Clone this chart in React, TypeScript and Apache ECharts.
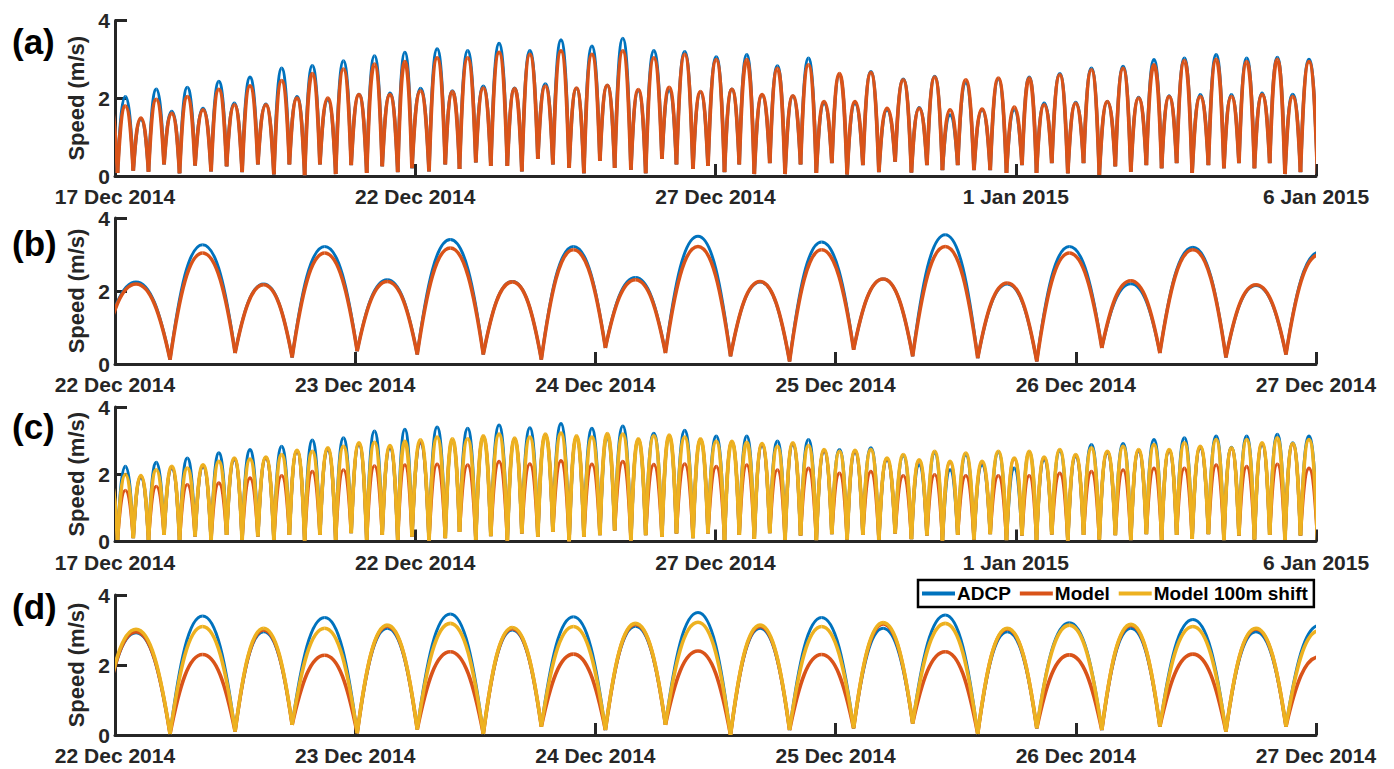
import React, { useEffect, useRef } from "react";
import * as echarts from "echarts";

const FONT = "'Liberation Sans', Arial, Helvetica, sans-serif";
const AXIS = "#262626";
const C_ADCP = "#0072BD";
const C_MODEL = "#D95319";
const C_SHIFT = "#EDB120";

// Tick labels
const ticksLong = ["17 Dec 2014", "22 Dec 2014", "27 Dec 2014", "1 Jan 2015", "6 Jan 2015"];
const ticksShort = ["22 Dec 2014", "23 Dec 2014", "24 Dec 2014", "25 Dec 2014", "26 Dec 2014", "27 Dec 2014"];

// Slack-water (trough) times, hours after 17 Dec 2014 00:00 (shared by both sites)
const troughHours = [
  -5.2, 1.0, 7.3, 13.4, 19.6, 25.8, 32.0, 38.4, 44.6, 50.8, 57.1, 63.5, 69.7, 75.8, 81.9, 88.2,
  94.4, 100.6, 106.8, 113.0, 118.7, 125.5, 132.0, 137.7, 144.2, 150.2, 156.8, 162.6, 169.0, 175.0,
  181.5, 187.4, 193.8, 199.7, 206.2, 212.1, 218.6, 224.4, 231.0, 237.0, 243.6, 249.5, 255.5, 261.7,
  267.8, 274.0, 280.3, 286.5, 292.6, 298.9, 305.3, 311.8, 318.3, 324.5, 330.7, 336.8, 343.3, 349.8,
  356.3, 362.5, 368.3, 374.4, 380.8, 387.1, 393.4, 399.8, 406.0, 412.2, 418.3, 424.3, 430.5, 437.0,
  443.2, 449.2, 455.4, 461.5, 467.6, 473.8, 480.6,
];

// Site 1 (panels a, b): peak speed of each half tidal cycle (m/s)
const site1Adcp = [
  1.9, 2.04, 1.46, 2.23, 1.66, 2.28, 1.74, 2.43, 1.87, 2.54,
  1.85, 2.77, 2.04, 2.84, 1.96, 2.96, 2.10, 3.09, 2.13, 3.18,
  2.25, 3.27, 2.19, 3.22, 2.31, 3.41, 2.26, 3.22, 2.37, 3.50,
  2.25, 3.34, 2.33, 3.54, 2.19, 3.22, 2.20, 3.20, 2.15, 3.06,
  2.23, 3.12, 2.08, 2.83, 2.05, 3.03, 1.87, 2.60, 1.87, 2.68,
  1.70, 2.49, 1.76, 2.56, 1.57, 2.40, 1.70, 2.49, 1.70, 2.54,
  1.87, 2.63, 1.89, 2.77, 1.91, 2.82, 2.02, 2.99, 2.06, 3.03,
  2.09, 3.12, 2.09, 3.03, 2.13, 3.05, 2.10, 3.00,
];
const site1Model = [
  1.9, 1.80, 1.49, 1.97, 1.61, 2.04, 1.70, 2.23, 1.83, 2.32,
  1.83, 2.45, 2.00, 2.63, 2.00, 2.75, 2.09, 2.88, 2.09, 2.94,
  2.19, 3.04, 2.17, 3.04, 2.26, 3.18, 2.25, 3.13, 2.31, 3.22,
  2.26, 3.13, 2.33, 3.22, 2.22, 3.04, 2.28, 3.13, 2.17, 2.99,
  2.23, 2.99, 2.09, 2.77, 2.06, 2.86, 1.91, 2.63, 1.91, 2.66,
  1.74, 2.47, 1.74, 2.54, 1.70, 2.47, 1.72, 2.52, 1.77, 2.52,
  1.83, 2.60, 1.87, 2.73, 1.91, 2.77, 2.00, 2.86, 2.04, 2.97,
  2.04, 3.00, 2.04, 2.94, 2.09, 3.00, 2.04, 2.94,
];
// Site 1 speed at each slack water (m/s)
const site1Slack = [
  0.10, 0.08, 0.14, 0.11, 0.30, 0.07, 0.27, 0.12, 0.25, 0.10, 0.30, 0.04, 0.30, 0.02, 0.30, 0.05,
  0.28, 0.08, 0.25, 0.10, 0.20, 0.12, 0.30, 0.18, 0.35, 0.26, 0.26, 0.12, 0.44, 0.30, 0.21, 0.07,
  0.39, 0.21, 0.16, 0.07, 0.44, 0.30, 0.18, 0.26, 0.10, 0.30, 0.05, 0.33, 0.05, 0.30, 0.08, 0.33,
  0.04, 0.28, 0.10, 0.37, 0.09, 0.28, 0.15, 0.28, 0.15, 0.15, 0.08, 0.28, 0.08, 0.33, 0.07, 0.33,
  0.03, 0.25, 0.11, 0.28, 0.20, 0.33, 0.08, 0.28, 0.20, 0.33, 0.20, 0.33, 0.05, 0.10, 0.05,
];

// Site 2 (panels c, d)
const site2Adcp = [
  1.9, 2.23, 1.90, 2.35, 2.18, 2.48, 2.23, 2.63, 2.43, 2.73,
  2.48, 2.83, 2.68, 3.01, 2.73, 3.08, 2.88, 3.28, 2.78, 3.33,
  2.92, 3.40, 2.95, 3.36, 3.05, 3.46, 3.00, 3.38, 3.11, 3.50,
  3.05, 3.36, 3.05, 3.43, 2.95, 3.21, 3.05, 3.30, 2.95, 3.13,
  2.93, 3.13, 2.86, 2.98, 2.88, 3.03, 2.68, 2.73, 2.66, 2.78,
  2.43, 2.55, 2.28, 2.63, 2.13, 2.58, 2.28, 2.65, 2.18, 2.65,
  2.43, 2.70, 2.53, 2.88, 2.63, 2.91, 2.68, 3.03, 2.70, 3.08,
  2.78, 3.13, 2.80, 3.13, 2.88, 3.18, 2.93, 3.13,
];
const site2Model = [
  1.9, 1.52, 1.94, 1.64, 2.21, 1.69, 2.26, 1.74, 2.46, 1.89,
  2.49, 1.96, 2.69, 2.08, 2.76, 2.13, 2.91, 2.25, 2.83, 2.28,
  2.95, 2.30, 3.00, 2.28, 3.11, 2.38, 3.04, 2.31, 3.16, 2.40,
  3.10, 2.30, 3.17, 2.38, 3.03, 2.29, 3.13, 2.31, 3.03, 2.23,
  2.96, 2.28, 2.89, 2.13, 2.91, 2.18, 2.71, 2.03, 2.69, 2.08,
  2.46, 1.96, 2.41, 1.99, 2.36, 1.96, 2.36, 1.96, 2.46, 1.96,
  2.49, 2.03, 2.56, 2.08, 2.66, 2.13, 2.71, 2.18, 2.71, 2.18,
  2.81, 2.28, 2.76, 2.23, 2.91, 2.30, 2.89, 2.18,
];
const site2Shift = [
  1.9, 1.99, 1.96, 2.13, 2.23, 2.18, 2.28, 2.38, 2.48, 2.45,
  2.51, 2.58, 2.71, 2.68, 2.78, 2.83, 2.93, 2.95, 2.85, 2.98,
  3.02, 3.10, 3.05, 3.05, 3.14, 3.19, 3.07, 3.10, 3.19, 3.22,
  3.14, 3.10, 3.21, 3.19, 3.05, 3.14, 3.16, 3.10, 3.05, 2.98,
  2.98, 2.95, 2.91, 2.83, 2.93, 2.85, 2.73, 2.68, 2.71, 2.73,
  2.48, 2.58, 2.43, 2.68, 2.38, 2.63, 2.38, 2.68, 2.48, 2.68,
  2.51, 2.73, 2.58, 2.78, 2.68, 2.83, 2.73, 2.88, 2.73, 2.93,
  2.83, 3.03, 2.78, 3.03, 2.93, 3.08, 2.91, 3.03,
];
const site2Slack = [
  0.10, 0.05, 0.10, 0.05, 0.20, 0.05, 0.15, 0.05, 0.20, 0.05, 0.15, 0.05, 0.20, 0.03, 0.20, 0.05,
  0.25, 0.05, 0.20, 0.05, 0.15, 0.03, 0.10, 0.29, 0.05, 0.16, 0.03, 0.24, 0.14, 0.29, 0.00, 0.14,
  0.19, 0.33, 0.03, 0.19, 0.14, 0.24, 0.10, 0.24, 0.05, 0.20, 0.08, 0.25, 0.05, 0.18, 0.04, 0.22,
  0.06, 0.20, 0.05, 0.24, 0.07, 0.18, 0.03, 0.20, 0.06, 0.22, 0.04, 0.18, 0.05, 0.21, 0.03, 0.20,
  0.06, 0.19, 0.04, 0.22, 0.05, 0.20, 0.08, 0.22, 0.04, 0.18, 0.06, 0.20, 0.05, 0.18, 0.05,
];

function arcs(peaks: number[], slack: number[], tMin: number, tMax: number) {
  const out: number[][] = [];
  for (let i = 0; i < peaks.length; i++) {
    const t0 = troughHours[i];
    const t1 = troughHours[i + 1];
    if (t1 < tMin || t0 > tMax) continue;
    out.push([t0, t1, slack[i], peaks[i], slack[i + 1]]);
  }
  return out;
}

function renderArc(color: string, lineWidth: number) {
  return (params: any, api: any) => {
    const t0 = api.value(0);
    const t1 = api.value(1);
    const v0 = api.value(2);
    const vp = api.value(3);
    const v1 = api.value(4);
    const tm = (t0 + t1) / 2;
    const a = api.coord([t0, v0]);
    const p = api.coord([tm, vp]);
    const b = api.coord([t1, v1]);
    const k1x = 0.3;
    const k1y = 0.62;
    const k2x = 0.58;
    const style = { stroke: color, lineWidth, fill: "none", lineJoin: "round" };
    return {
      type: "group",
      children: [
        {
          type: "bezierCurve",
          shape: {
            x1: a[0], y1: a[1], x2: p[0], y2: p[1],
            cpx1: a[0] + k1x * (p[0] - a[0]), cpy1: a[1] + k1y * (p[1] - a[1]),
            cpx2: a[0] + k2x * (p[0] - a[0]), cpy2: p[1],
          },
          style,
        },
        {
          type: "bezierCurve",
          shape: {
            x1: p[0], y1: p[1], x2: b[0], y2: b[1],
            cpx1: b[0] + k2x * (p[0] - b[0]), cpy1: p[1],
            cpx2: b[0] + k1x * (p[0] - b[0]), cpy2: b[1] + k1y * (p[1] - b[1]),
          },
          style,
        },
      ],
    };
  };
}

function arcSeries(name: string, color: string, lw: number, gi: number, data: number[][]) {
  return {
    type: "custom",
    name,
    xAxisIndex: gi,
    yAxisIndex: gi,
    clip: true,
    silent: true,
    itemStyle: { color },
    encode: { x: [0, 1], y: [2, 3, 4] },
    renderItem: renderArc(color, lw),
    data,
  };
}

const GRIDS = [
  { top: 20.5, height: 155.5 },
  { top: 218, height: 146 },
  { top: 407, height: 134.5 },
  { top: 595, height: 140 },
];
const LABEL_Y = [41, 243, 426, 606];
const PANEL_NAMES = ["(a)", "(b)", "(c)", "(d)"];

function xAx(gi: number, min: number, max: number, interval: number, labels: string[]) {
  return {
    type: "value",
    gridIndex: gi,
    min,
    max,
    interval,
    axisLine: { show: true, onZero: false, lineStyle: { color: AXIS, width: 3 } },
    axisTick: { show: true, inside: true, length: 12, lineStyle: { color: AXIS, width: 3 } },
    axisLabel: {
      show: true,
      margin: 10,
      color: AXIS,
      fontSize: 21,
      fontWeight: "bold",
      fontFamily: FONT,
      showMinLabel: true,
      showMaxLabel: true,
      formatter: (v: number) => labels[Math.round((v - min) / interval)] ?? "",
    },
    splitLine: { show: false },
  };
}

function yAx(gi: number) {
  return {
    type: "value",
    gridIndex: gi,
    min: 0,
    max: 4,
    interval: 2,
    name: "Speed (m/s)",
    nameLocation: "middle",
    nameGap: 22,
    nameRotate: 90,
    nameTextStyle: { color: AXIS, fontSize: 22, fontWeight: "bold", fontFamily: FONT },
    axisLine: { show: true, lineStyle: { color: AXIS, width: 3 } },
    axisTick: { show: true, inside: true, length: 12, lineStyle: { color: AXIS, width: 3 } },
    axisLabel: { margin: 5, color: AXIS, fontSize: 21, fontWeight: "bold", fontFamily: FONT },
    splitLine: { show: false },
  };
}

export default function App() {
  const ref = useRef<HTMLDivElement>(null);
  useEffect(() => {
    if (!ref.current) return;
    const chart = echarts.init(ref.current, undefined, { renderer: "svg" });
    const series: any[] = [
      arcSeries("ADCP", C_ADCP, 3.4, 0, arcs(site1Adcp, site1Slack, 0, 480)),
      arcSeries("Model", C_MODEL, 3.8, 0, arcs(site1Model, site1Slack, 0, 480)),
      arcSeries("ADCP", C_ADCP, 3.0, 1, arcs(site1Adcp, site1Slack, 120, 240)),
      arcSeries("Model", C_MODEL, 3.6, 1, arcs(site1Model, site1Slack, 120, 240)),
      arcSeries("ADCP", C_ADCP, 3.4, 2, arcs(site2Adcp, site2Slack, 0, 480)),
      arcSeries("Model", C_MODEL, 3.4, 2, arcs(site2Model, site2Slack, 0, 480)),
      arcSeries("Model 100m shift", C_SHIFT, 3.8, 2, arcs(site2Shift, site2Slack, 0, 480)),
      arcSeries("ADCP", C_ADCP, 3.0, 3, arcs(site2Adcp, site2Slack, 120, 240)),
      arcSeries("Model", C_MODEL, 3.6, 3, arcs(site2Model, site2Slack, 120, 240)),
      arcSeries("Model 100m shift", C_SHIFT, 3.6, 3, arcs(site2Shift, site2Slack, 120, 240)),
    ];
    chart.setOption({
      animation: false,
      backgroundColor: "#fff",
      grid: GRIDS.map((g) => ({ left: 115, right: 78, top: g.top, height: g.height, containLabel: false })),
      xAxis: [
        xAx(0, 0, 480, 120, ticksLong),
        xAx(1, 120, 240, 24, ticksShort),
        xAx(2, 0, 480, 120, ticksLong),
        xAx(3, 120, 240, 24, ticksShort),
      ],
      yAxis: [yAx(0), yAx(1), yAx(2), yAx(3)],
      legend: {
        show: true,
        left: 918,
        top: 580,
        orient: "horizontal",
        selectedMode: false,
        itemWidth: 33,
        itemHeight: 4,
        itemGap: 9,
        padding: [4, 6, 4, 4],
        borderColor: "#000",
        borderWidth: 2.5,
        backgroundColor: "#fff",
        textStyle: { fontSize: 19, fontWeight: "bold", color: "#000", fontFamily: FONT, padding: [0, 0, 0, -3] },
        data: [
          { name: "ADCP", icon: "rect", itemStyle: { color: C_ADCP } },
          { name: "Model", icon: "rect", itemStyle: { color: C_MODEL } },
          { name: "Model 100m shift", icon: "rect", itemStyle: { color: C_SHIFT } },
        ],
      },
      graphic: PANEL_NAMES.map((t, i) => ({
        type: "text",
        x: 12,
        y: LABEL_Y[i],
        style: {
          text: t,
          fontSize: 35,
          fontWeight: "bold",
          fontFamily: FONT,
          fill: "#000",
          align: "left",
          verticalAlign: "middle",
        },
      })),
      series,
    });
    return () => chart.dispose();
  }, []);
  return (
    <div
      ref={ref}
      style={{ position: "absolute", left: 0, top: 0, width: 1394, height: 769, background: "#fff" }}
    />
  );
}
